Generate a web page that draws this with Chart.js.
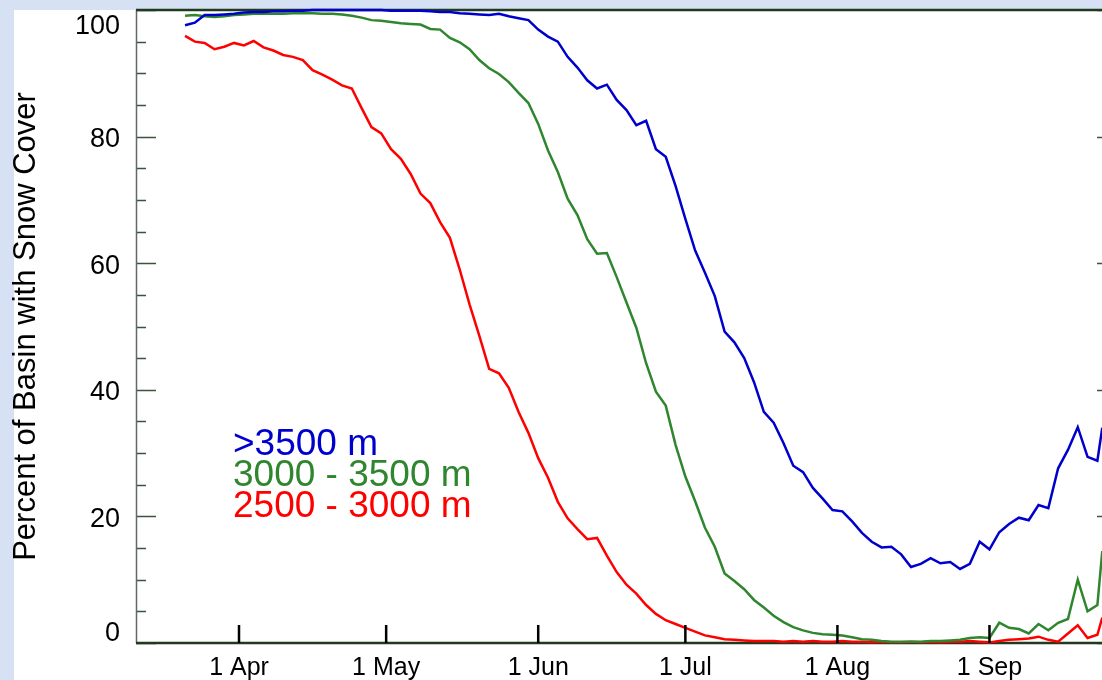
<!DOCTYPE html>
<html>
<head>
<meta charset="utf-8">
<title>Snow cover by elevation band</title>
<script src="https://cdn.jsdelivr.net/npm/chart.js@4.4.1/dist/chart.umd.min.js"></script>
<style>
  html, body { margin: 0; padding: 0; overflow: hidden; background: #d6e2f3; }
  #paper { position: absolute; left: 14px; top: 10px; width: 1106px; height: 670px; background: #fff; }
  #wrap { position: absolute; left: 0; top: 0; width: 1120px; height: 680px; }
</style>
</head>
<body>
<div id="paper"></div>
<div id="wrap"><canvas id="snowChart"></canvas></div>
<script>
// day of year for each sample (every 2nd day, 21 Mar .. 24 Sep)
const days = [80, 82, 84, 86, 88, 90, 92, 94, 96, 98,
  100, 102, 104, 106, 108, 110, 112, 114, 116, 118,
  120, 122, 124, 126, 128, 130, 132, 134, 136, 138,
  140, 142, 144, 146, 148, 150, 152, 154, 156, 158,
  160, 162, 164, 166, 168, 170, 172, 174, 176, 178,
  180, 182, 184, 186, 188, 190, 192, 194, 196, 198,
  200, 202, 204, 206, 208, 210, 212, 214, 216, 218,
  220, 222, 224, 226, 228, 230, 232, 234, 236, 238,
  240, 242, 244, 246, 248, 250, 252, 254, 256, 258,
  260, 262, 264, 266, 267];

// percent of basin with snow cover
const above3500 = [97.6, 98.0, 99.2, 99.2, 99.3, 99.4, 99.6, 99.7, 99.7, 99.8,
  99.8, 99.9, 99.9, 100, 100, 100, 100, 100, 100, 100,
  100, 99.9, 99.9, 99.9, 99.9, 99.8, 99.7, 99.7, 99.5, 99.4,
  99.3, 99.2, 99.4, 99.0, 98.7, 98.4, 96.9, 95.8, 95.0, 92.6,
  90.9, 88.9, 87.6, 88.2, 85.8, 84.2, 81.8, 82.5, 78.0, 76.8,
  72.2, 67.0, 62.0, 58.5, 54.8, 49.2, 47.5, 45.0, 41.2, 36.5,
  34.8, 31.6, 28.0, 27.0, 24.5, 22.8, 21.0, 20.8, 19.2, 17.4,
  16.0, 15.1, 15.2, 14.0, 12.0, 12.5, 13.4, 12.6, 12.8, 11.7,
  12.5, 16.0, 14.8, 17.5, 18.8, 19.8, 19.4, 21.8, 21.3, 27.6,
  30.5, 34.1, 29.4, 28.8, 34.0];

const from3000 = [99.1, 99.2, 99.0, 98.9, 99.0, 99.2, 99.3, 99.4, 99.4, 99.4,
  99.4, 99.5, 99.5, 99.5, 99.4, 99.4, 99.3, 99.1, 98.8, 98.4,
  98.3, 98.1, 97.9, 97.8, 97.7, 97.0, 96.9, 95.6, 94.9, 93.8,
  92.1, 90.8, 89.9, 88.6, 86.9, 85.3, 82.0, 77.8, 74.4, 70.2,
  67.6, 63.8, 61.5, 61.6, 57.8, 53.8, 49.8, 44.2, 39.7, 37.5,
  31.3, 26.3, 22.4, 18.2, 15.2, 11.0, 9.8, 8.5, 6.8, 5.6,
  4.3, 3.3, 2.5, 2.0, 1.6, 1.4, 1.3, 1.2, 0.9, 0.6,
  0.5, 0.3, 0.2, 0.2, 0.2, 0.2, 0.3, 0.3, 0.4, 0.5,
  0.8, 0.9, 0.8, 3.2, 2.4, 2.2, 1.5, 3.0, 2.0, 3.2,
  3.8, 10.0, 5.0, 6.0, 14.5];

const from2500 = [95.9, 95.0, 94.8, 93.8, 94.2, 94.8, 94.4, 95.1, 94.1, 93.6,
  92.9, 92.6, 92.1, 90.5, 89.8, 89.0, 88.1, 87.6, 84.5, 81.5,
  80.5, 78.0, 76.5, 74.1, 71.0, 69.5, 66.5, 64.0, 59.0, 53.5,
  48.5, 43.3, 42.6, 40.3, 36.5, 33.2, 29.2, 26.1, 22.3, 19.7,
  18.0, 16.4, 16.6, 13.8, 11.2, 9.2, 7.8, 6.0, 4.6, 3.6,
  3.0, 2.4, 1.8, 1.2, 0.9, 0.6, 0.5, 0.4, 0.3, 0.3,
  0.3, 0.2, 0.3, 0.2, 0.3, 0.2, 0.2, 0.3, 0.2, 0.2,
  0.1, 0.2, 0.1, 0.1, 0.2, 0.1, 0.2, 0.1, 0.2, 0.2,
  0.3, 0.2, 0.1, 0.3, 0.5, 0.6, 0.7, 1.0, 0.5, 0.2,
  1.5, 2.8, 0.8, 1.3, 4.0];

const seriesNames = ['>3500 m', '3000 - 3500 m', '2500 - 3000 m'];
const monthDays = [91, 121, 152, 182, 213, 244];
const monthLabels = ['1 Apr', '1 May', '1 Jun', '1 Jul', '1 Aug', '1 Sep'];
const yLabels = [0, 20, 40, 60, 80, 100];

const colors = ['#0000cc', '#2f862f', '#ff0000'];
const fontFamily = "'Liberation Sans', Arial, Helvetica, sans-serif";

const toPoints = (values) => days.map((d, i) => ({ x: d, y: values[i] }));

// IDL-style frame: inward ticks on both y axes, month ticks on the bottom,
// y labels and the text legend inside the plot
const framePlugin = {
  id: 'frame',
  beforeDatasetsDraw(chart) {
    const { ctx, chartArea: a, scales: { y } } = chart;
    ctx.save();
    ctx.lineWidth = 1.5;
    ctx.strokeStyle = '#3b553b';
    for (let v = 0; v <= 100; v += 5) {
      const py = Math.round(y.getPixelForValue(v)) + 0.5;
      const len = v % 20 === 0 ? 20 : 10;
      ctx.beginPath();
      ctx.moveTo(a.left, py);
      ctx.lineTo(a.left + len, py);
      ctx.moveTo(a.right, py);
      ctx.lineTo(a.right - len, py);
      ctx.stroke();
    }
    ctx.strokeStyle = '#666';
    ctx.beginPath();
    ctx.moveTo(a.left + 0.5, a.top);
    ctx.lineTo(a.left + 0.5, a.bottom);
    ctx.moveTo(a.right - 0.5, a.top);
    ctx.lineTo(a.right - 0.5, a.bottom);
    ctx.stroke();
    ctx.lineWidth = 2.5;
    ctx.strokeStyle = '#1f3a1f';
    ctx.beginPath();
    ctx.moveTo(a.left, a.top);
    ctx.lineTo(a.right, a.top);
    ctx.moveTo(a.left, a.bottom);
    ctx.lineTo(a.right, a.bottom);
    ctx.stroke();
    ctx.restore();
  },
  afterDatasetsDraw(chart) {
    const { ctx, chartArea: a, scales: { x, y } } = chart;
    ctx.save();
    ctx.strokeStyle = '#000';
    ctx.lineWidth = 2.5;
    monthDays.forEach((d) => {
      const px = x.getPixelForValue(d);
      ctx.beginPath();
      ctx.moveTo(px, a.bottom);
      ctx.lineTo(px, a.bottom - 18);
      ctx.stroke();
    });

    ctx.fillStyle = '#000';
    ctx.font = `27px ${fontFamily}`;
    ctx.textAlign = 'right';
    ctx.textBaseline = 'middle';
    yLabels.forEach((v) => {
      const shift = v === 100 ? 17 : (v === 0 ? -9 : 3);
      ctx.fillText(String(v), a.left - 16, y.getPixelForValue(v) + shift);
    });

    ctx.font = `37px ${fontFamily}`;
    ctx.textAlign = 'left';
    ctx.textBaseline = 'alphabetic';
    seriesNames.forEach((name, i) => {
      ctx.fillStyle = colors[i];
      ctx.fillText(name, a.left + 97, 455 + i * 31);
    });
    ctx.restore();
  }
};

const ctx = document.getElementById('snowChart');

const snowChart = new Chart(ctx, {
  type: 'line',
  data: {
    datasets: [
      { label: seriesNames[0], data: toPoints(above3500), borderColor: colors[0] },
      { label: seriesNames[1], data: toPoints(from3000), borderColor: colors[1] },
      { label: seriesNames[2], data: toPoints(from2500), borderColor: colors[2] }
    ]
  },
  options: {
    responsive: true,
    maintainAspectRatio: false,
    animation: false,
    layout: { padding: { top: 10, right: 3, left: 0, bottom: 0 } },
    elements: {
      line: { borderWidth: 2.5, tension: 0 },
      point: { radius: 0 }
    },
    datasets: { line: { clip: 6 } },
    plugins: {
      legend: { display: false },
      tooltip: { enabled: false }
    },
    scales: {
      x: {
        type: 'linear',
        min: 70,
        max: 270,
        grid: { display: false, drawTicks: false },
        border: { display: false },
        afterBuildTicks: (scale) => {
          scale.ticks = monthDays.map((v) => ({ value: v }));
        },
        afterFit: (scale) => { scale.height = 37; },
        ticks: {
          autoSkip: false,
          maxRotation: 0,
          padding: 10,
          color: '#000',
          font: { family: fontFamily, size: 25 },
          callback: (v) => monthLabels[monthDays.indexOf(v)]
        }
      },
      y: {
        min: 0,
        max: 100,
        grid: { display: false, drawTicks: false },
        border: { display: false },
        ticks: { display: false },
        afterFit: (scale) => { scale.width = 136; },
        title: {
          display: true,
          text: 'Percent of Basin with Snow Cover',
          color: '#000',
          font: { family: fontFamily, size: 31 },
          padding: { top: 8, bottom: 0 }
        }
      }
    }
  },
  plugins: [framePlugin]
});
</script>
</body>
</html>
